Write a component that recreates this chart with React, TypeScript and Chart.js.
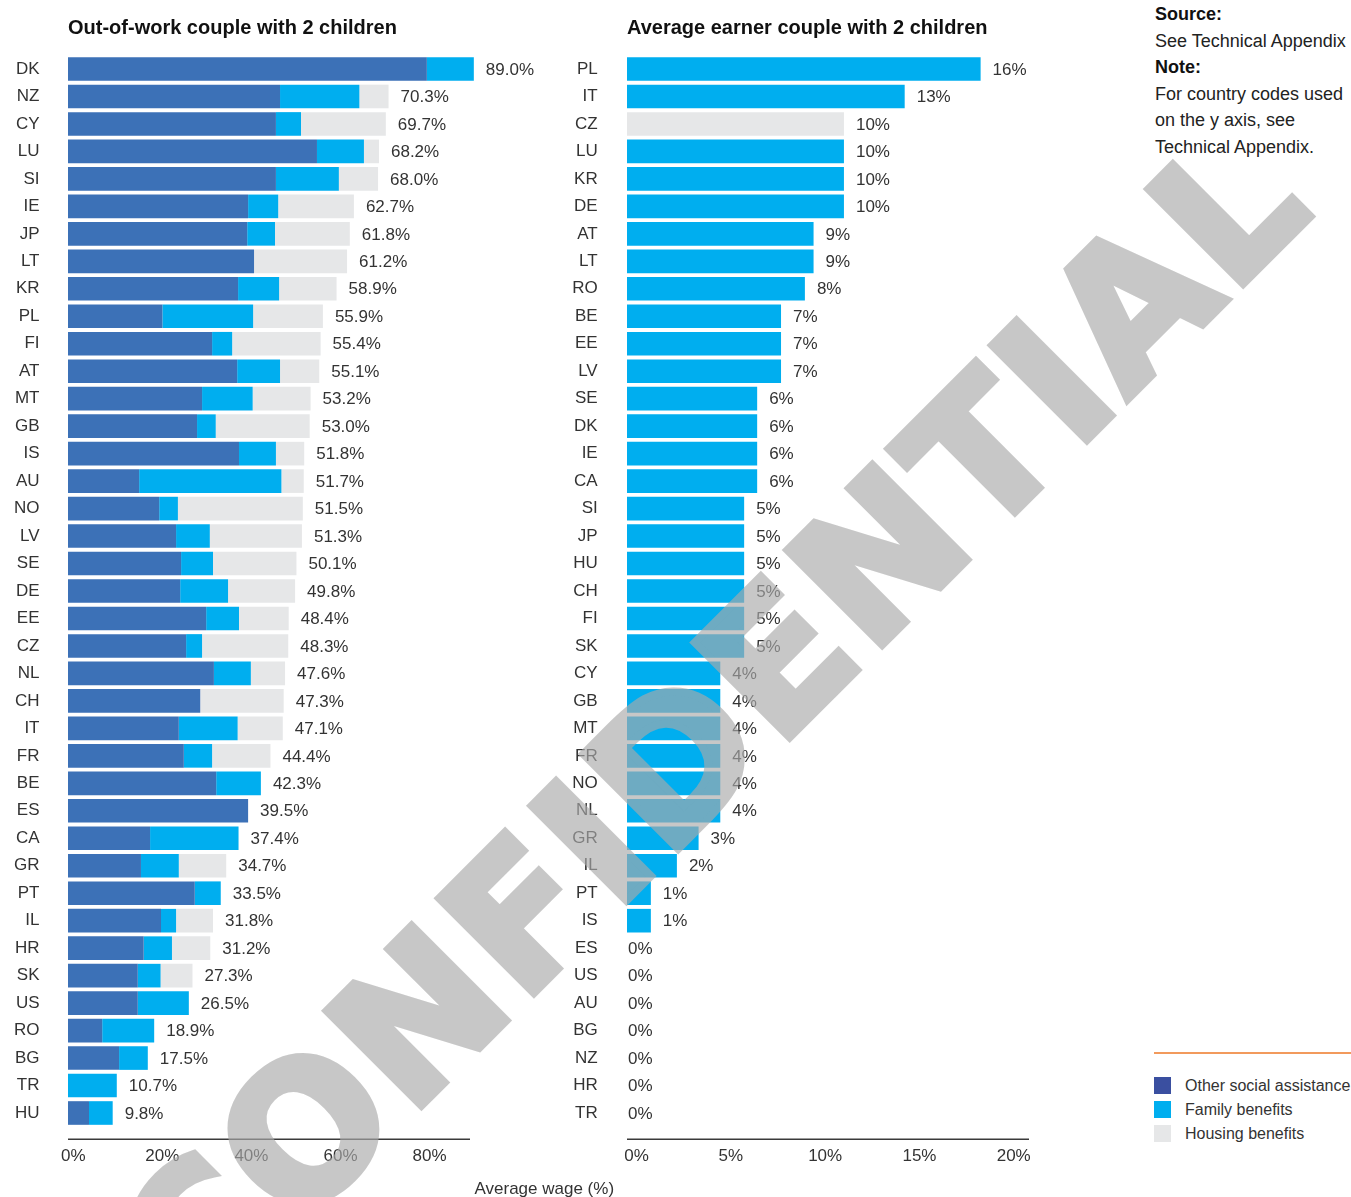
import React, { useEffect, useRef } from 'react';
import { Chart, registerables } from 'chart.js';

Chart.register(...registerables);

// ---------- Data ----------
const leftCategories = ['DK','NZ','CY','LU','SI','IE','JP','LT','KR','PL','FI','AT','MT','GB','IS','AU','NO','LV','SE','DE','EE','CZ','NL','CH','IT','FR','BE','ES','CA','GR','PT','IL','HR','SK','US','RO','BG','TR','HU'];
const leftOther = [78.7,46.5,45.6,54.6,45.6,39.5,39.3,40.8,37.3,20.7,31.6,37.1,29.4,28.3,37.5,15.6,20.0,23.7,24.8,24.6,30.3,25.9,32.0,29.0,24.3,25.4,32.5,39.5,18.0,16.0,27.8,20.4,16.6,15.3,15.3,7.5,11.2,0,4.6];
const leftFamily = [10.3,17.4,5.5,10.3,13.8,6.6,6.1,0,9.0,19.9,4.4,9.4,11.1,4.1,8.1,31.2,4.1,7.4,7.0,10.5,7.2,3.5,8.1,0,12.9,6.2,9.8,0,19.4,8.3,5.7,3.3,6.2,5.0,11.2,11.4,6.3,10.7,5.2];
const leftHousing = [0,6.4,18.6,3.3,8.6,16.6,16.4,20.4,12.6,15.3,19.4,8.6,12.7,20.6,6.2,4.9,27.4,20.2,18.3,14.7,10.9,18.9,7.5,18.3,9.9,12.8,0,0,0,10.4,0,8.1,8.4,7.0,0,0,0,0,0];
const leftTicks = [0, 20, 40, 60, 80];

const rightCategories = ['PL','IT','CZ','LU','KR','DE','AT','LT','RO','BE','EE','LV','SE','DK','IE','CA','SI','JP','HU','CH','FI','SK','CY','GB','MT','FR','NO','NL','GR','IL','PT','IS','ES','US','AU','BG','NZ','HR','TR'];
const rightFamily = [16.3,12.8,0,10.0,10.0,10.0,8.6,8.6,8.2,7.1,7.1,7.1,6.0,6.0,6.0,6.0,5.4,5.4,5.4,5.4,5.4,5.4,4.3,4.3,4.3,4.3,4.3,4.3,3.3,2.3,1.1,1.1,0,0,0,0,0,0,0];
const rightHousing = [0,0,10.0,0,0,0,0,0,0,0,0,0,0,0,0,0,0,0,0,0,0,0,0,0,0,0,0,0,0,0,0,0,0,0,0,0,0,0,0];
const rightTicks = [0, 5, 10, 15, 20];

const seriesNames = ['Other social assistance', 'Family benefits', 'Housing benefits'];
const barColors = ['#3c71b7', '#00aeef', '#e6e7e8'];
const legendColors = ['#3a4fa0', '#00aeef', '#e6e7e8'];

const leftTitle = 'Out-of-work couple with 2 children';
const rightTitle = 'Average earner couple with 2 children';
const axisTitle = 'Average wage (%)';
const watermark = 'CONFIDENTIAL';

const FONT = '"Liberation Sans", Arial, Helvetica, sans-serif';
const TEXT = '#333333';

type Series = { label: string; data: number[]; color: string };

type PanelProps = {
  left: number;
  width: number;
  yWidth: number;
  yPad: number;
  padRight: number;
  categories: string[];
  series: Series[];
  barMax: number;
  tickMin: number;
  tickMax: number;
  ticks: number[];
  fmt: (v: number) => string;
};

const HEIGHT = 1197;

function BarPanel(p: PanelProps) {
  const ref = useRef<HTMLCanvasElement | null>(null);
  useEffect(() => {
    if (!ref.current) return;
    const valueLabels = {
      id: 'valueLabels',
      afterDatasetsDraw(chart: any) {
        const { ctx } = chart;
        const xs = chart.scales.x;
        const ys = chart.scales.y;
        const n = chart.data.labels.length;
        ctx.save();
        ctx.font = `17px ${FONT}`;
        ctx.fillStyle = TEXT;
        ctx.textAlign = 'left';
        ctx.textBaseline = 'middle';
        for (let i = 0; i < n; i++) {
          const total = chart.data.datasets.reduce((a: number, d: any) => a + (d.data[i] as number), 0);
          const x = xs.getPixelForValue(total) + (total > 0 ? 12 : 1);
          const y = ys.getPixelForValue(i);
          ctx.fillText(p.fmt(total), x, y + 1);
        }
        ctx.restore();
      },
    };
    const axisLine = {
      id: 'axisLine',
      afterDraw(chart: any) {
        const { ctx, chartArea } = chart;
        const y = chartArea.bottom + 12.5;
        ctx.save();
        ctx.strokeStyle = '#3a3a3a';
        ctx.lineWidth = 1.6;
        ctx.beginPath();
        ctx.moveTo(chartArea.left, y);
        ctx.lineTo(chartArea.right, y);
        ctx.stroke();
        ctx.restore();
      },
    };
    const chart = new Chart(ref.current, {
      type: 'bar',
      data: {
        labels: p.categories,
        datasets: p.series.map((s) => ({
          label: s.label,
          data: s.data,
          backgroundColor: s.color,
          borderWidth: 0,
          barPercentage: 0.86,
          categoryPercentage: 1,
          clip: false as any,
          xAxisID: 'x',
          yAxisID: 'y',
        })),
      },
      options: {
        indexAxis: 'y',
        responsive: false,
        maintainAspectRatio: false,
        animation: false,
        layout: { padding: { top: 55.26, right: p.padRight, left: 0, bottom: 0 } },
        plugins: {
          legend: { display: false },
          tooltip: { enabled: false },
          title: { display: false },
        },
        scales: {
          x: { type: 'linear', display: false, stacked: true, min: 0, max: p.barMax },
          xTicks: {
            type: 'linear',
            position: 'bottom',
            min: p.tickMin,
            max: p.tickMax,
            grid: { display: false, drawTicks: false },
            border: { display: false },
            afterBuildTicks: (s: any) => {
              s.ticks = p.ticks.map((v) => ({ value: v }));
            },
            afterFit: (s: any) => {
              s.height = HEIGHT - 1126.74;
            },
            ticks: {
              autoSkip: false,
              maxRotation: 0,
              padding: 19.5,
              color: TEXT,
              font: { family: FONT, size: 17 },
              callback: (v: any) => `${v}%`,
            },
          } as any,
          y: {
            type: 'category',
            stacked: true,
            grid: { display: false, drawTicks: false },
            border: { display: false },
            afterFit: (s: any) => {
              s.width = p.yWidth;
            },
            ticks: {
              autoSkip: false,
              padding: p.yPad,
              color: TEXT,
              font: { family: FONT, size: 17 },
            },
          },
        },
      },
      plugins: [valueLabels, axisLine],
    });
    return () => chart.destroy();
  }, []);
  return (
    <canvas
      ref={ref}
      width={p.width}
      height={HEIGHT}
      style={{ position: 'absolute', left: p.left, top: 0, width: p.width, height: HEIGHT }}
    />
  );
}

function Watermark() {
  const ref = useRef<HTMLCanvasElement | null>(null);
  useEffect(() => {
    const c = ref.current;
    if (!c) return;
    const ctx = c.getContext('2d') as any;
    if (!ctx) return;
    ctx.clearRect(0, 0, c.width, c.height);
    ctx.save();
    ctx.translate(757, 770);
    ctx.rotate(-Math.PI / 4);
    ctx.font = 'bold 184px "DejaVu Sans"';
    try {
      ctx.letterSpacing = '5px';
    } catch (e) {
      /* ignore */
    }
    ctx.fillStyle = 'rgb(170,170,170)';
    ctx.strokeStyle = 'rgb(170,170,170)';
    ctx.lineWidth = 8;
    ctx.lineJoin = 'miter';
    ctx.textAlign = 'center';
    ctx.textBaseline = 'alphabetic';
    ctx.fillText(watermark, 0, 0);
    ctx.strokeText(watermark, 0, 0);
    ctx.restore();
  }, []);
  return (
    <canvas
      ref={ref}
      width={1351}
      height={HEIGHT}
      style={{
        position: 'absolute',
        left: 0,
        top: 0,
        width: 1351,
        height: HEIGHT,
        pointerEvents: 'none',
        opacity: 0.65,
      }}
    />
  );
}

export default function App() {
  useEffect(() => {
    document.body.style.margin = '0';
    document.body.style.overflow = 'hidden';
  }, []);

  const leftSeries: Series[] = [
    { label: seriesNames[0], data: leftOther, color: barColors[0] },
    { label: seriesNames[1], data: leftFamily, color: barColors[1] },
    { label: seriesNames[2], data: leftHousing, color: barColors[2] },
  ];
  const rightSeries: Series[] = [
    { label: seriesNames[1], data: rightFamily, color: barColors[1] },
    { label: seriesNames[2], data: rightHousing, color: barColors[2] },
  ];

  const titleStyle: React.CSSProperties = {
    position: 'absolute',
    top: 16.6,
    fontFamily: FONT,
    fontWeight: 'bold',
    fontSize: 20,
    lineHeight: '20px',
    color: '#111',
    whiteSpace: 'nowrap',
  };

  return (
    <div
      style={{
        position: 'absolute',
        left: 0,
        top: 0,
        width: 1351,
        height: HEIGHT,
        overflow: 'hidden',
        background: '#fff',
        fontFamily: FONT,
      }}
    >
      <BarPanel
        left={0}
        width={560}
        yWidth={68}
        yPad={28.5}
        padRight={90}
        categories={leftCategories}
        series={leftSeries}
        barMax={88.16}
        tickMin={-1.17}
        tickMax={89.07}
        ticks={leftTicks}
        fmt={(v) => `${v.toFixed(1)}%`}
      />
      <BarPanel
        left={560}
        width={560}
        yWidth={67}
        yPad={29.3}
        padRight={91}
        categories={rightCategories}
        series={rightSeries}
        barMax={18.53}
        tickMin={-0.51}
        tickMax={20.81}
        ticks={rightTicks}
        fmt={(v) => `${Math.round(v)}%`}
      />
      <div style={{ ...titleStyle, left: 68 }}>{leftTitle}</div>
      <div style={{ ...titleStyle, left: 627 }}>{rightTitle}</div>
      <div
        style={{
          position: 'absolute',
          left: 474.5,
          top: 1179.6,
          fontSize: 17,
          lineHeight: '17px',
          color: TEXT,
          whiteSpace: 'nowrap',
        }}
      >
        {axisTitle}
      </div>
      <div
        style={{
          position: 'absolute',
          left: 1155,
          top: 1,
          fontSize: 18,
          lineHeight: '26.6px',
          color: '#222',
          whiteSpace: 'nowrap',
        }}
      >
        <div style={{ fontWeight: 'bold', color: '#111' }}>Source:</div>
        <div>See Technical Appendix</div>
        <div style={{ fontWeight: 'bold', color: '#111' }}>Note:</div>
        <div>For country codes used</div>
        <div>on the y axis, see</div>
        <div>Technical Appendix.</div>
      </div>
      <div
        style={{
          position: 'absolute',
          left: 1154,
          top: 1052,
          width: 197,
          height: 1.5,
          background: '#f29a5c',
        }}
      />
      {seriesNames.map((name, i) => (
        <div
          key={name}
          style={{
            position: 'absolute',
            left: 1154,
            top: 1077 + i * 24,
            height: 17,
            whiteSpace: 'nowrap',
          }}
        >
          <div
            style={{
              position: 'absolute',
              left: 0,
              top: 0,
              width: 17,
              height: 17,
              background: legendColors[i],
            }}
          />
          <div
            style={{
              position: 'absolute',
              left: 31,
              top: 0,
              fontSize: 16,
              lineHeight: '17px',
              color: TEXT,
            }}
          >
            {name}
          </div>
        </div>
      ))}
      <Watermark />
    </div>
  );
}
